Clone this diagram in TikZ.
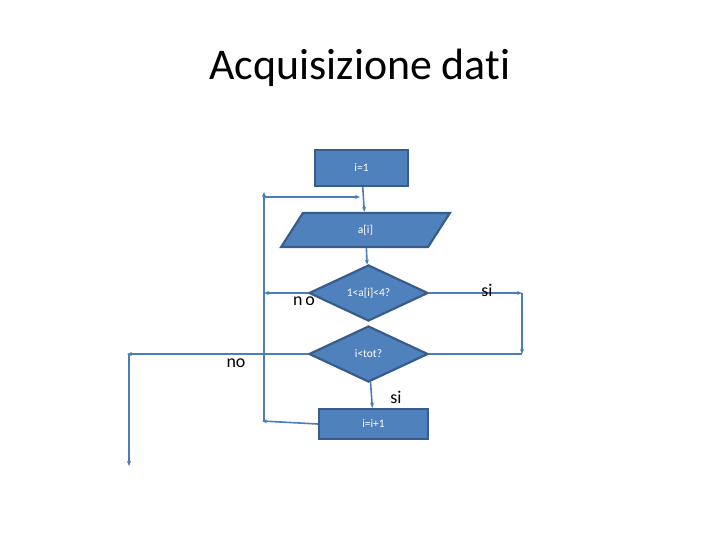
\documentclass[tikz,border=0pt]{standalone}
\usepackage{fontspec}
\setmainfont[Ligatures=NoCommon]{Carlito}
\usepackage{xcolor}
\usetikzlibrary{shapes.geometric, arrows.meta, positioning}
\definecolor{fillblue}{RGB}{79,129,189}
\definecolor{edgeblue}{RGB}{56,93,138}
\definecolor{lineblue}{RGB}{74,126,187}

\begin{document}
\begin{tikzpicture}[x=1bp, y=-1bp,
  box/.style={rectangle, draw=edgeblue, fill=fillblue, line width=2.2bp,
              inner sep=0pt, text=white, font=\fontsize{11.5}{13}\selectfont},
  io/.style={trapezium, trapezium left angle=75, trapezium right angle=105,
             trapezium stretches=true, draw=edgeblue, fill=fillblue, line width=2.2bp,
             inner sep=0pt, text=white, font=\fontsize{11.5}{13}\selectfont},
  dec/.style={diamond, draw=edgeblue, fill=fillblue, line width=2.2bp, aspect=2.1,
              inner sep=0pt, minimum width=119bp, minimum height=56bp,
              text=white, font=\fontsize{11.5}{13}\selectfont},
  arr/.style={-{Stealth[length=5bp, width=4bp]}, line width=1.6bp, color=lineblue},
  lbl/.style={font=\fontsize{18}{20}\selectfont, text=black}
]
  \useasboundingbox (0,0) rectangle (720,540);

  % title
  \node[font=\fontsize{44}{50}\selectfont] (ttl) at (360,68) {Acquisizione dati};

  % blocks
  \node[box, minimum width=93bp, minimum height=36bp]  (init) at (361.5,168) {i=1};
  \node[io,  minimum width=169bp, minimum height=34bp] (rd)   at (365.5,230) {a[i]};
  \node[dec] (range) at (368.5,293) {1<a[i]<4?};
  \node[dec] (more)  at (368.5,354) {i<tot?};
  \node[box, minimum width=109bp, minimum height=30bp] (inc)  at (373.5,424) {i=i+1};

  % corner points
  \coordinate (lpTop) at (264,192);
  \coordinate (lpBot) at (264,421);
  \coordinate (lpIn)  at (360,197);
  \coordinate (lpOut) at (264,197);
  \coordinate (noA)   at (264,293);
  \coordinate (siA)   at (522,293);
  \coordinate (siB)   at (522,354);
  \coordinate (noB)   at (127,354);
  \coordinate (endT)  at (129,354);
  \coordinate (endB)  at (129,466);
  \coordinate (incL)  at (262,421);

  % flow
  \draw[arr] (init) -- (rd);
  \draw[arr] (rd) -- (range);
  \draw[arr] (range.west) -- (noA);
  \draw[arr] (range.east) -- (siA);
  \draw[arr] (siA) -- (siB);
  \draw[line width=1.6bp, lineblue] (siB) -- (more.east);
  \draw[arr] (more.west) -- (noB);
  \draw[arr] (endT) -- (endB);
  \draw[arr] (more) -- (inc);
  \draw[arr] (inc.west) -- (incL);
  \draw[arr] (lpBot) -- (lpTop);
  \draw[arr] (lpOut) -- (lpIn);

  % labels
  \node[lbl] (noRange) at (304,301) {n\,o};
  \node[lbl] (siRange) at (487,290) {si};
  \node[lbl] (noMore)  at (236,363) {no};
  \node[lbl] (siMore)  at (396,397) {si};
\end{tikzpicture}
\end{document}
